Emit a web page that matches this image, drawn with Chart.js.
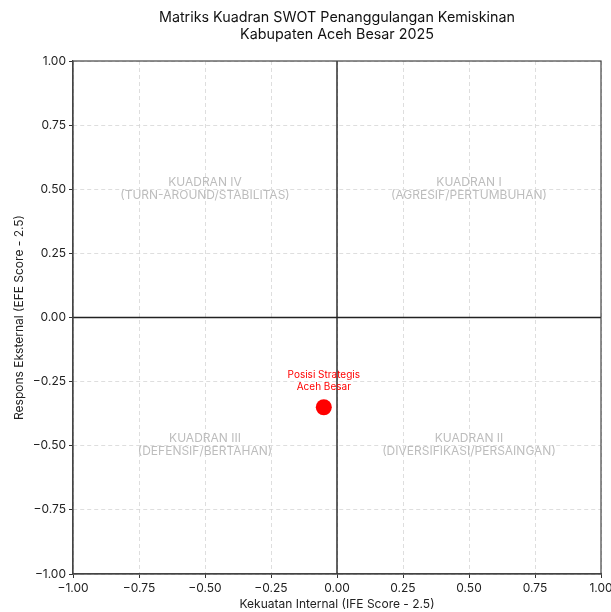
<!DOCTYPE html>
<html>
<head>
<meta charset="utf-8">
<script src="https://cdn.jsdelivr.net/npm/chart.js@4.4.1/dist/chart.umd.min.js"></script>
<style>
  body { margin: 0; background: #fff; }
  #wrap { width: 611px; height: 612px; }
</style>
</head>
<body>
<div id="wrap"><canvas id="chart" width="611" height="612"></canvas></div>
<script>
const titleLines = ["Matriks Kuadran SWOT Penanggulangan Kemiskinan", "Kabupaten Aceh Besar 2025"];
const xTitle = "Kekuatan Internal (IFE Score - 2.5)";
const yTitle = "Respons Eksternal (EFE Score - 2.5)";
const tickValues = [-1, -0.75, -0.5, -0.25, 0, 0.25, 0.5, 0.75, 1];

// posisi strategis
const pointX = [-0.05];
const pointY = [-0.35];
const pointLabel = ["Posisi Strategis", "Aceh Besar"];

// label kuadran
const quadX = [0.5, 0.5, -0.5, -0.5];
const quadY = [0.5, -0.5, -0.5, 0.5];
const quadText = [
    ["KUADRAN I", "(AGRESIF/PERTUMBUHAN)"],
    ["KUADRAN II", "(DIVERSIFIKASI/PERSAINGAN)"],
    ["KUADRAN III", "(DEFENSIF/BERTAHAN)"],
    ["KUADRAN IV", "(TURN-AROUND/STABILITAS)"]
];

const FONT = "Inter, 'Open Sans', sans-serif";

const fmt = v => (v < 0 ? "\u2212" : "") + Math.abs(v).toFixed(2);

const extras = {
    id: "extras",
    beforeDatasetsDraw(chart) {
        const { ctx, chartArea: a, scales: { x, y } } = chart;
        ctx.save();
        // garis nol
        ctx.strokeStyle = "#222";
        ctx.lineWidth = 1.4;
        ctx.beginPath();
        ctx.moveTo(x.getPixelForValue(0), a.top);
        ctx.lineTo(x.getPixelForValue(0), a.bottom);
        ctx.moveTo(a.left, y.getPixelForValue(0));
        ctx.lineTo(a.right, y.getPixelForValue(0));
        ctx.stroke();

        // bingkai
        ctx.strokeStyle = "#444";
        ctx.lineWidth = 1.2;
        ctx.strokeRect(a.left, a.top, a.right - a.left, a.bottom - a.top);

        // kuadran
        ctx.fillStyle = "#bdbdbd";
        ctx.font = "12px " + FONT;
        ctx.textAlign = "center";
        ctx.textBaseline = "middle";
        quadText.forEach((lines, i) => {
            const px = x.getPixelForValue(quadX[i]);
            const py = y.getPixelForValue(quadY[i]);
            ctx.fillText(lines[0], px, py - 7);
            ctx.fillText(lines[1], px, py + 6);
        });
        ctx.restore();
    },
    afterDatasetsDraw(chart) {
        const { ctx, chartArea: a, scales: { x, y } } = chart;
        ctx.save();
        ctx.fillStyle = "#ff0000";
        ctx.font = "10px " + FONT;
        ctx.textAlign = "center";
        ctx.textBaseline = "middle";
        const px = x.getPixelForValue(pointX[0]);
        const py = y.getPixelForValue(pointY[0]);
        ctx.fillText(pointLabel[0], px, py - 32);
        ctx.fillText(pointLabel[1], px, py - 20);

        // judul
        ctx.fillStyle = "#111";
        ctx.font = "14.3px " + FONT;
        const cx = (a.left + a.right) / 2;
        ctx.fillText(titleLines[0], cx, 18);
        ctx.fillText(titleLines[1], cx, 35);
        ctx.restore();
    }
};

const axisCommon = {
    type: "linear",
    min: -1,
    max: 1,
    afterBuildTicks: s => { s.ticks = tickValues.map(v => ({ value: v })); },
    ticks: {
        callback: v => fmt(v),
        color: "#222",
        font: { family: FONT, size: 12 },
        padding: 3
    },
    grid: {
        color: "#d6d6d6",
        lineWidth: 0.8,
        tickColor: "#333",
        tickLength: 4,
        tickWidth: 1
    },
    border: { color: "#444", width: 1.2, dash: [4, 3] }
};

new Chart(document.getElementById("chart"), {
    type: "scatter",
    data: {
        datasets: [{
            data: pointX.map((v, i) => ({ x: v, y: pointY[i] })),
            backgroundColor: "#ff0000",
            borderWidth: 0,
            pointRadius: 8
        }]
    },
    options: {
        responsive: false,
        animation: false,
        layout: { padding: { top: 61, right: 10, bottom: 0, left: 0 } },
        plugins: { legend: { display: false }, tooltip: { enabled: false } },
        scales: {
            x: {
                ...axisCommon,
                afterFit: s => { s.height = 38; s.paddingLeft = 0; s.paddingRight = 0; },
                title: { display: true, text: xTitle, color: "#222", font: { family: FONT, size: 12 }, padding: { top: 2, bottom: 0 } }
            },
            y: {
                ...axisCommon,
                afterFit: s => { s.width = 73; s.paddingTop = 0; s.paddingBottom = 0; },
                title: { display: true, text: yTitle, color: "#222", font: { family: FONT, size: 12 }, padding: { top: 12, bottom: 4 } }
            }
        }
    },
    plugins: [extras]
});
</script>
</body>
</html>
